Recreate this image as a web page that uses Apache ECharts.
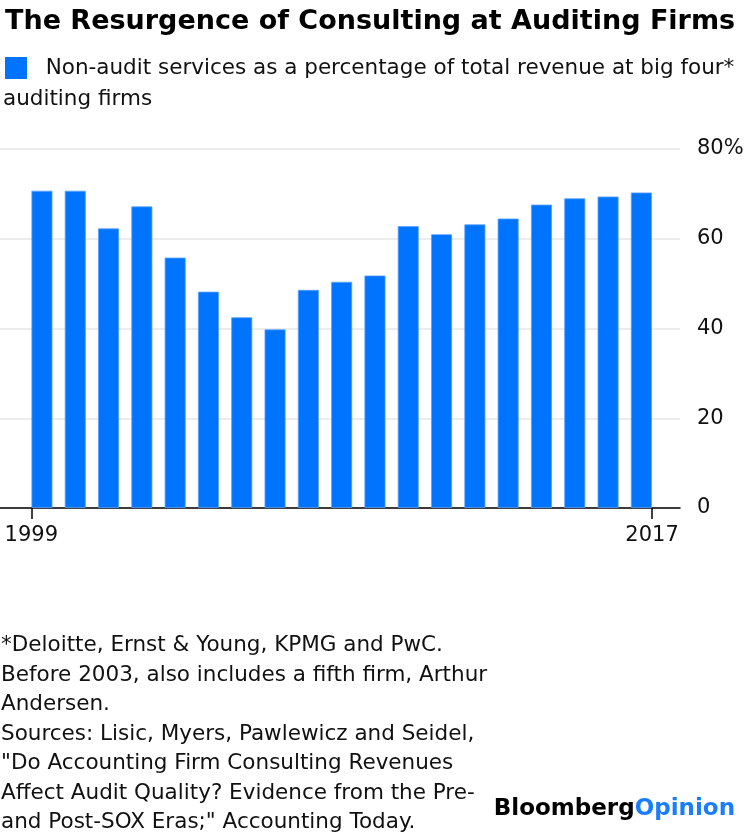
<!DOCTYPE html>
<html><head><meta charset="utf-8">
<script src="https://cdn.jsdelivr.net/npm/echarts@6/dist/echarts.min.js"></script>
<style>html,body{margin:0;padding:0;background:#fff}#c{width:750px;height:834px}</style>
</head><body><div id="c"></div>
<script>
const years = [1999,2000,2001,2002,2003,2004,2005,2006,2007,2008,2009,2010,2011,2012,2013,2014,2015,2016,2017];
const nonAuditShare = [70.7,70.7,62.3,67.2,55.8,48.2,42.5,39.8,48.6,50.4,51.8,62.8,61.0,63.2,64.5,67.6,69.0,69.4,70.3];
const yTicks = [0,20,40,60,80];
const titleText = 'The Resurgence of Consulting at Auditing Firms';
const legendLine1 = 'Non-audit services as a percentage of total revenue at big four*';
const legendLine2 = 'auditing firms';
const footnoteLines = [
  '*Deloitte, Ernst & Young, KPMG and PwC.',
  'Before 2003, also includes a fifth firm, Arthur',
  'Andersen.',
  'Sources: Lisic, Myers, Pawlewicz and Seidel,',
  '"Do Accounting Firm Consulting Revenues',
  'Affect Audit Quality? Evidence from the Pre-',
  'and Post-SOX Eras;" Accounting Today.'
];

const FONT = 'DejaVu Sans, sans-serif';
const BOLD = 'DejaVu Sans, sans-serif';
const seriesName = legendLine1 + ' ' + legendLine2;
const halfBar = 0.32; // half bar width, in years
const chart = echarts.init(document.getElementById('c'));
chart.setOption({
  animation: false,
  textStyle: {fontFamily: FONT},
  title: {
    text: titleText, left: 0, top: 3,
    textStyle: {fontSize: 27, fontWeight: 'bold', color: '#000', fontFamily: BOLD}
  },
  legend: {
    left: 0, top: 52, itemWidth: 22, itemHeight: 22, itemGap: 10,
    icon: 'rect',
    itemStyle: {borderWidth: 0},
    formatter: () => '  ' + legendLine1,
    textStyle: {fontSize: 21.5, color: '#111', fontFamily: FONT},
    data: [seriesName]
  },
  graphic: [
    {type: 'text', left: 3, top: 88, style: {text: legendLine2, fontSize: 21.5, fill: '#111', fontFamily: FONT}},
    {type: 'text', left: 1, top: 631, style: {text: footnoteLines.join('\n'), fontSize: 21.5, lineHeight: 29.5, fill: '#111', fontFamily: FONT}},
    {type: 'text', right: 15, top: 798, style: {
      text: '{a|Bloomberg}{b|Opinion}',
      rich: {
        a: {fontSize: 23, fontWeight: 'bold', fill: '#000', fontFamily: BOLD},
        b: {fontSize: 23, fontWeight: 'bold', fill: '#1a7cff', fontFamily: BOLD}
      }
    }}
  ],
  grid: {left: 0, right: 70, top: 149, bottom: 326},
  xAxis: {
    type: 'value',
    min: 1997.74, max: 2018.16,
    splitLine: {show: false},
    axisLine: {show: true, onZero: false, lineStyle: {color: '#000', width: 1.5}},
    axisTick: {show: true, length: 11, customValues: [years[0] - halfBar, years[years.length-1] + halfBar], lineStyle: {color: '#000', width: 1.5}},
    axisLabel: {
      customValues: [years[0] - halfBar, years[years.length-1] + halfBar],
      formatter: v => String(Math.round(v)),
      fontSize: 21, color: '#111', margin: 17, fontFamily: FONT
    }
  },
  yAxis: {
    type: 'value', position: 'right', min: 0, max: 80, interval: 20,
    axisLine: {show: false}, axisTick: {show: false},
    splitLine: {lineStyle: {color: '#ececec', width: 2}},
    axisLabel: {
      fontSize: 21, color: '#111', margin: 17, align: 'left', fontFamily: FONT,
      formatter: v => v === yTicks[yTicks.length-1] ? v + '%' : String(v)
    }
  },
  series: [{
    name: seriesName, type: 'bar', barWidth: 21,
    itemStyle: {color: '#0073ff', borderColor: '#5aa2ff', borderWidth: 0.8},
    data: years.map((y, i) => [y, nonAuditShare[i]])
  }]
});
</script></body></html>
